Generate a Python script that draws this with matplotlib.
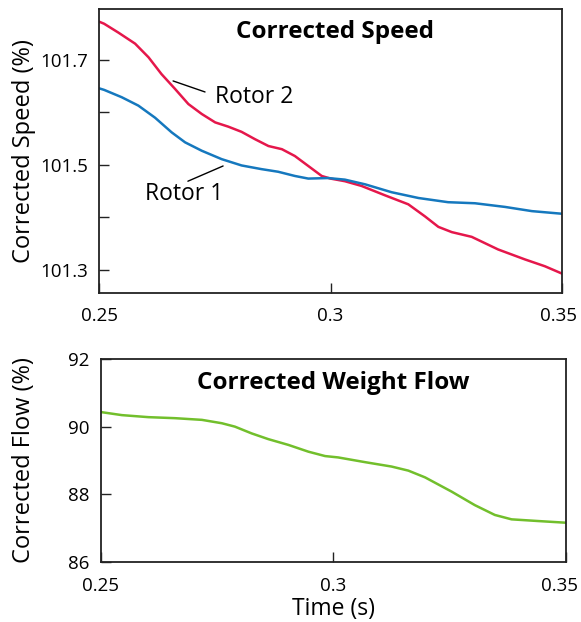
import matplotlib
matplotlib.use("Agg")
import matplotlib.pyplot as plt
from matplotlib.transforms import ScaledTranslation

plt.rcParams['font.family'] = ['Open Sans', 'DejaVu Sans']

# ---- data ----
time_r2 = [0.2500, 0.2511, 0.2542, 0.2578, 0.2607, 0.2635, 0.2664, 0.2693, 0.2722,
           0.2751, 0.2779, 0.2808, 0.2837, 0.2866, 0.2895, 0.2923, 0.2952, 0.2981,
           0.3000, 0.3031, 0.3067, 0.3118, 0.3168, 0.3204, 0.3233, 0.3262, 0.3305,
           0.3362, 0.3420, 0.3463, 0.3500]
rotor2 = [101.773, 101.769, 101.752, 101.731, 101.705, 101.673, 101.645, 101.616, 101.597,
          101.581, 101.573, 101.563, 101.549, 101.536, 101.530, 101.517, 101.498, 101.479,
          101.474, 101.469, 101.460, 101.442, 101.425, 101.402, 101.382, 101.372, 101.363,
          101.339, 101.320, 101.307, 101.293]

time_r1 = [0.2500, 0.2511, 0.2549, 0.2585, 0.2621, 0.2657, 0.2686, 0.2722, 0.2765,
           0.2808, 0.2851, 0.2887, 0.2923, 0.2952, 0.2995, 0.3031, 0.3075, 0.3132,
           0.3190, 0.3254, 0.3312, 0.3377, 0.3435, 0.3500]
rotor1 = [101.646, 101.643, 101.629, 101.613, 101.590, 101.562, 101.543, 101.527, 101.511,
          101.499, 101.492, 101.487, 101.479, 101.474, 101.475, 101.472, 101.463, 101.448,
          101.437, 101.429, 101.427, 101.420, 101.412, 101.407]

time_flow = [0.2500, 0.2545, 0.2602, 0.2659, 0.2717, 0.2760, 0.2788, 0.2824, 0.2860,
             0.2903, 0.2946, 0.2982, 0.3010, 0.3068, 0.3125, 0.3161, 0.3197, 0.3254,
             0.3304, 0.3347, 0.3383, 0.3440, 0.3500]
flow = [90.43, 90.34, 90.28, 90.25, 90.20, 90.10, 90.00, 89.80, 89.63,
        89.46, 89.26, 89.13, 89.09, 88.95, 88.82, 88.70, 88.50, 88.08,
        87.68, 87.39, 87.26, 87.21, 87.16]

x_ticks = [0.25, 0.3, 0.35]
x_tick_labels = ['0.25', '0.3', '0.35']
speed_ticks = [101.3, 101.4, 101.5, 101.6, 101.7]
speed_tick_labels = ['101.3', '', '101.5', '', '101.7']
flow_ticks = [86, 88, 90, 92]
flow_tick_labels = ['86', '88', '90', '92']

RED = '#E5174B'
BLUE = '#1578BE'
GREEN = '#72BF2C'

fig = plt.figure(figsize=(5.81, 6.22), dpi=100)
ax1 = fig.add_axes([0.1704, 0.5289, 0.7969, 0.4566])
ax2 = fig.add_axes([0.1738, 0.0965, 0.8003, 0.3264])

for ax in (ax1, ax2):
    for s in ax.spines.values():
        s.set_linewidth(1.3)
        s.set_color('#222222')
    ax.tick_params(direction='in', length=7, width=1.0, labelsize=13.5, color='#222222')
    ax.tick_params(axis='y', pad=8)
ax1.tick_params(axis='x', pad=10)
ax2.tick_params(axis='x', pad=11)

# top panel
ax1.plot(time_r2, rotor2, color=RED, lw=1.8, solid_joinstyle='round')
ax1.plot(time_r1, rotor1, color=BLUE, lw=1.8, solid_joinstyle='round')
ax1.set_xlim(0.25, 0.35)
ax1.set_ylim(101.256, 101.797)
ax1.set_xticks(x_ticks)
ax1.set_xticklabels(x_tick_labels)
ax1.set_yticks(speed_ticks)
ax1.set_yticklabels(speed_tick_labels)
ax1.set_ylabel('Corrected Speed (%)', fontsize=17)
ax1.yaxis.set_label_coords(-0.135, 0.5)
ax1.text(0.51, 0.962, 'Corrected Speed', transform=ax1.transAxes, ha='center', va='top',
         fontsize=17.5, fontweight='bold')

# leader lines and labels
ax1.annotate('', xy=(0.2660, 101.660), xytext=(0.2729, 101.639),
             arrowprops=dict(arrowstyle='-', color='black', lw=1.0, shrinkA=0, shrinkB=0))
ax1.text(0.2751, 101.629, 'Rotor 2', fontsize=16.5, va='center', ha='left')
ax1.annotate('', xy=(0.2768, 101.498), xytext=(0.2692, 101.469),
             arrowprops=dict(arrowstyle='-', color='black', lw=1.0, shrinkA=0, shrinkB=0))
ax1.text(0.2599, 101.444, 'Rotor 1', fontsize=16.5, va='center', ha='left')

# bottom panel
ax2.plot(time_flow, flow, color=GREEN, lw=1.8, solid_joinstyle='round')
ax2.set_xlim(0.25, 0.35)
ax2.set_ylim(86, 92)
ax2.set_xticks(x_ticks)
ax2.set_xticklabels(x_tick_labels)
ax2.set_yticks(flow_ticks)
ax2.set_yticklabels(flow_tick_labels)
ax2.set_ylabel('Corrected Flow (%)', fontsize=17)
ax2.yaxis.set_label_coords(-0.14, 0.5)
ax2.set_xlabel('Time (s)', fontsize=16.5, va='top')
ax2.xaxis.set_label_coords(0.5, -0.172)
ax2.text(0.5, 0.94, 'Corrected Weight Flow', transform=ax2.transAxes, ha='center', va='top',
         fontsize=17.5, fontweight='bold')

# nudge the right-most x tick labels inward as in the reference
for ax, dx in ((ax1, -4), (ax2, -6)):
    lbl = ax.get_xticklabels()[-1]
    lbl.set_transform(lbl.get_transform() + ScaledTranslation(dx / 100, 0, fig.dpi_scale_trans))

fig.savefig('out.png', dpi=100)
